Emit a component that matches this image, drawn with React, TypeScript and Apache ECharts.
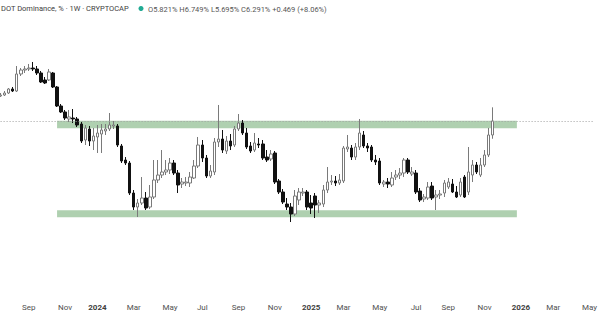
import React, { useEffect, useRef } from "react";
import * as echarts from "echarts";

// Weekly candles, first bar week of 2023-07-17 (Monday)
const FIRST_WEEK = "2023-07-17";
const WEEK_SLOTS = 148; // axis extends into 2026 (future empty space)

const open = [
  7.130, 7.163, 7.230, 7.365, 7.297, 7.868, 8.002, 8.036, 8.069, 8.036,
  7.901, 7.667, 7.667, 7.901, 7.432, 6.794, 6.593, 6.358, 6.391, 6.358,
  6.190, 5.653, 6.022, 5.619, 5.754, 5.854, 5.955, 6.022, 6.123, 6.123,
  5.452, 4.982, 4.881, 3.874, 3.404, 3.539, 3.706, 3.404, 3.740, 4.311,
  4.478, 4.579, 4.646, 4.881, 4.545, 4.176, 4.210, 4.210, 4.378, 4.780,
  5.485, 5.049, 4.445, 4.579, 5.586, 5.686, 5.284, 5.619, 5.485, 6.022,
  6.223, 5.888, 5.452, 5.317, 5.519, 5.519, 5.082, 5.015, 5.217, 4.277,
  3.908, 3.505, 3.404, 3.169, 3.639, 3.874, 3.908, 3.539, 3.774, 3.472,
  3.505, 3.975, 4.243, 4.277, 4.210, 4.277, 5.351, 5.384, 5.082, 5.418,
  5.821, 5.452, 5.418, 4.982, 4.948, 4.176, 4.243, 4.143, 4.411, 4.478,
  4.545, 4.982, 4.512, 4.545, 3.941, 3.673, 3.706, 4.109, 3.740, 3.807,
  3.874, 4.076, 4.176, 3.908, 3.807, 4.411, 3.908, 4.478, 4.814, 4.478,
  4.814, 5.150, 5.821,
];
const close = [
  7.163, 7.230, 7.365, 7.297, 7.868, 8.002, 8.036, 8.069, 8.036, 7.901,
  7.599, 7.566, 7.935, 7.432, 6.794, 6.593, 6.391, 6.425, 6.358, 6.156,
  5.619, 6.056, 5.619, 5.787, 5.888, 5.989, 6.022, 6.156, 6.156, 5.485,
  4.948, 4.881, 3.874, 3.404, 3.539, 3.706, 3.371, 3.740, 4.311, 4.478,
  4.579, 4.646, 4.881, 4.545, 4.143, 4.243, 4.243, 4.411, 4.780, 5.485,
  5.049, 4.445, 4.613, 5.586, 5.686, 5.317, 5.619, 5.452, 6.022, 6.223,
  5.888, 5.418, 5.284, 5.552, 5.485, 5.049, 4.982, 5.183, 4.243, 3.908,
  3.572, 3.404, 3.169, 3.774, 3.908, 3.908, 3.404, 3.371, 3.472, 3.539,
  3.975, 4.243, 4.277, 4.210, 4.311, 5.384, 5.418, 5.082, 5.418, 5.888,
  5.452, 5.384, 4.982, 4.915, 4.210, 4.243, 4.176, 4.378, 4.478, 4.545,
  4.982, 4.579, 4.579, 3.908, 3.639, 3.740, 4.076, 3.706, 3.807, 3.841,
  4.210, 4.243, 3.908, 3.740, 4.243, 3.740, 4.579, 4.814, 4.579, 4.814,
  5.150, 5.821, 6.291,
];
const low = [
  7.096, 7.130, 7.197, 7.264, 7.264, 7.801, 7.901, 7.969, 7.969, 7.834,
  7.566, 7.532, 7.633, 7.398, 6.760, 6.559, 6.324, 6.257, 6.223, 6.089,
  5.552, 5.485, 5.452, 5.317, 5.217, 5.217, 5.821, 5.955, 6.022, 5.418,
  4.881, 4.814, 3.807, 3.304, 3.069, 3.472, 3.304, 3.337, 3.673, 4.210,
  4.378, 4.478, 4.512, 4.478, 3.874, 4.042, 4.109, 4.076, 4.344, 4.713,
  4.915, 4.378, 4.378, 4.478, 5.418, 5.217, 5.183, 5.317, 5.418, 5.955,
  5.821, 5.351, 5.217, 5.250, 5.384, 4.982, 4.915, 4.948, 4.176, 3.841,
  3.505, 3.304, 2.901, 3.102, 3.472, 3.774, 3.304, 3.169, 3.035, 3.203,
  3.404, 3.874, 4.143, 4.109, 4.143, 4.210, 5.250, 4.982, 4.982, 5.317,
  5.384, 5.250, 4.915, 4.814, 4.143, 4.076, 4.042, 4.076, 4.311, 4.344,
  4.411, 4.512, 4.445, 3.841, 3.572, 3.572, 3.639, 3.639, 3.304, 3.673,
  3.740, 4.008, 3.874, 3.706, 3.740, 3.706, 3.807, 4.243, 4.512, 4.411,
  4.747, 5.082, 5.695,
];
const high = [
  7.230, 7.297, 7.398, 7.432, 8.136, 8.069, 8.136, 8.204, 8.271, 8.136,
  7.969, 7.767, 8.036, 7.935, 7.465, 6.861, 6.660, 6.660, 6.693, 6.425,
  6.257, 6.156, 6.123, 6.056, 6.156, 6.190, 6.190, 6.559, 6.291, 6.190,
  5.519, 5.082, 4.948, 3.975, 3.673, 4.411, 3.908, 4.143, 4.982, 4.982,
  5.317, 4.982, 5.049, 4.982, 4.646, 4.378, 4.411, 4.579, 4.982, 5.754,
  5.653, 5.150, 4.814, 5.720, 6.828, 5.989, 5.787, 5.854, 6.123, 6.525,
  6.324, 6.056, 5.586, 5.888, 5.720, 5.653, 5.317, 5.317, 5.284, 4.344,
  4.008, 3.706, 3.539, 3.975, 4.042, 4.042, 3.975, 3.807, 3.874, 3.639,
  4.143, 4.747, 4.478, 4.445, 4.512, 5.452, 5.821, 5.485, 5.552, 6.358,
  5.955, 5.552, 5.485, 5.150, 5.049, 4.311, 4.378, 4.579, 4.646, 4.713,
  5.049, 5.049, 4.747, 4.646, 4.042, 3.841, 4.243, 4.243, 3.975, 3.975,
  4.311, 4.378, 4.344, 4.109, 4.378, 4.478, 5.418, 4.982, 4.915, 5.049,
  5.317, 6.056, 6.749,
];

const PRICE_LINE = 6.291;
const upperZone = [6.05, 6.3];
const lowerZone = [3.06, 3.3];
const zoneFrom = "2023-10-23";
const zoneTo = "2025-12-29";

const titleText = "DOT Dominance, % · 1W · CRYPTOCAP";
const ohlcText = "O5.821% H6.749% L5.695% C6.291% +0.469 (+8.06%)";
const monthNames = ["Jan", "Feb", "Mar", "Apr", "May", "Jun", "Jul", "Aug", "Sep", "Oct", "Nov", "Dec"];

function buildWeeks(): string[] {
  const out: string[] = [];
  const start = new Date(FIRST_WEEK + "T00:00:00Z").getTime();
  for (let i = 0; i < WEEK_SLOTS; i++) {
    const d = new Date(start + i * 7 * 86400000);
    out.push(d.toISOString().slice(0, 10));
  }
  return out;
}

export default function App() {
  const ref = useRef<HTMLDivElement>(null);
  useEffect(() => {
    if (!ref.current) return;
    const chart = echarts.init(ref.current, null, { renderer: "svg" });
    const weeks = buildWeeks();
    const candles = open.map((o, i) => [o, close[i], low[i], high[i]]);
    const isLabel = (value: string) => {
      const d = new Date(value + "T00:00:00Z");
      return d.getUTCDate() <= 7 && d.getUTCMonth() % 2 === 0;
    };
    chart.setOption({
      animation: false,
      backgroundColor: "#ffffff",
      grid: { left: 0.6, right: 2.6, top: 0, bottom: 20, containLabel: false },
      xAxis: {
        type: "category",
        data: weeks,
        boundaryGap: false,
        axisLine: { show: false },
        axisTick: { show: false },
        splitLine: { show: false },
        axisLabel: {
          interval: (_i: number, v: string) => isLabel(v),
          margin: 8,
          fontSize: 8,
          color: "#505050",
          fontFamily: "Roboto, sans-serif",
          formatter: (v: string) => {
            const d = new Date(v + "T00:00:00Z");
            const m = d.getUTCMonth();
            return m === 0 ? "{y|" + d.getUTCFullYear() + "}" : monthNames[m];
          },
          rich: { y: { fontSize: 8, fontWeight: "bold", color: "#404040", fontFamily: "Roboto, sans-serif" } },
        },
      },
      yAxis: {
        type: "value",
        show: false,
        min: 0.452,
        max: 10.351,
        splitLine: { show: false },
      },
      series: [
        {
          type: "candlestick",
          data: candles,
          barWidth: 3,
          z: 2,
          itemStyle: {
            color: "#ffffff",
            color0: "#111111",
            borderColor: "#7a7a7a",
            borderColor0: "#111111",
            borderWidth: 1,
          },
          markArea: {
            silent: true,
            itemStyle: { color: "#afd0b0" },
            data: [
              [{ xAxis: zoneFrom, yAxis: upperZone[1] }, { xAxis: zoneTo, yAxis: upperZone[0] }],
              [{ xAxis: zoneFrom, yAxis: lowerZone[1] }, { xAxis: zoneTo, yAxis: lowerZone[0] }],
            ],
          },
          markLine: {
            silent: true,
            symbol: ["none", "none"],
            label: { show: false },
            lineStyle: { color: "#a0a0a0", type: [1, 2], width: 1 },
            data: [{ yAxis: PRICE_LINE }],
          },
        },
      ],
      graphic: [
        {
          type: "text",
          left: 1,
          top: 4.5,
          style: { text: titleText, fontSize: 7.5, fill: "#3c3c3c", fontFamily: "Roboto, sans-serif" },
        },
        {
          type: "circle",
          shape: { cx: 141, cy: 8.5, r: 2.5 },
          style: { fill: "#22ab94" },
        },
        {
          type: "text",
          left: 148,
          top: 5,
          style: { text: ohlcText, fontSize: 7.5, fill: "#555555", fontFamily: "Roboto, sans-serif" },
        },
      ],
    });
    return () => chart.dispose();
  }, []);
  return (
    <div
      ref={ref}
      style={{ position: "absolute", left: 0, top: 0, width: 600, height: 315, background: "#fff" }}
    />
  );
}
